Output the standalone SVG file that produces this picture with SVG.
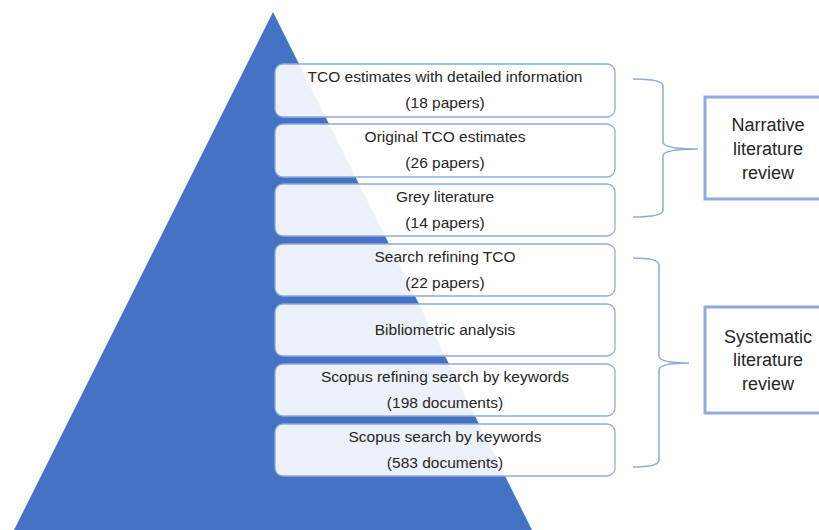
<svg xmlns="http://www.w3.org/2000/svg" width="819" height="530" viewBox="0 0 819 530">
<style>
.box{fill:#ffffff;fill-opacity:0.9;stroke:#8FAADC;stroke-width:1.3}
.t{font-family:"Liberation Sans",Arial,sans-serif;font-size:15.5px;fill:#262626;text-anchor:middle}
.brace{fill:none;stroke:#8FAADC;stroke-width:1.5}
.lab{fill:#ffffff;stroke:#8FAADC;stroke-width:3}
.lt{font-family:"Liberation Sans",Arial,sans-serif;font-size:18px;fill:#262626;text-anchor:middle}
</style>
<rect width="819" height="530" fill="#ffffff"/>
<polygon id="pyramid" points="273,12 14,530 532,530" fill="#4472C4"/>
<g id="n1"><rect class="box" x="275" y="64" width="340" height="53" rx="8"/><text class="t" x="445" y="82">TCO estimates with detailed information</text><text class="t" x="445" y="108">(18 papers)</text></g>
<g id="n2"><rect class="box" x="275" y="124" width="340" height="53" rx="8"/><text class="t" x="445" y="142">Original TCO estimates</text><text class="t" x="445" y="168">(26 papers)</text></g>
<g id="n3"><rect class="box" x="275" y="184" width="340" height="52" rx="8"/><text class="t" x="445" y="202">Grey literature</text><text class="t" x="445" y="228">(14 papers)</text></g>
<g id="n4"><rect class="box" x="275" y="244" width="340" height="52" rx="8"/><text class="t" x="445" y="262">Search refining TCO</text><text class="t" x="445" y="288">(22 papers)</text></g>
<g id="n5"><rect class="box" x="275" y="304" width="340" height="52" rx="8"/><text class="t" x="445" y="335">Bibliometric analysis</text></g>
<g id="n6"><rect class="box" x="275" y="364" width="340" height="52" rx="8"/><text class="t" x="445" y="382">Scopus refining search by keywords</text><text class="t" x="445" y="408">(198 documents)</text></g>
<g id="n7"><rect class="box" x="275" y="424" width="340" height="52" rx="8"/><text class="t" x="445" y="442">Scopus search by keywords</text><text class="t" x="445" y="468">(583 documents)</text></g>
<g id="connectors">
<path class="brace" d="M633,79 Q663,79 663,86 L663,142 Q663,149 698,149 Q663,149 663,156 L663,210 Q663,217 633,217"/>
<path class="brace" d="M633,258 Q659,258 659,265 L659,356 Q659,363 689,363 Q659,363 659,370 L659,460 Q659,467 633,467"/>
</g>
<g id="narrative"><rect class="lab" x="705" y="97" width="130" height="102"/><text class="lt" x="768" y="131">Narrative</text><text class="lt" x="768" y="155">literature</text><text class="lt" x="768" y="179">review</text></g>
<g id="systematic"><rect class="lab" x="705" y="307" width="130" height="106"/><text class="lt" x="768" y="343">Systematic</text><text class="lt" x="768" y="366">literature</text><text class="lt" x="768" y="390">review</text></g>
</svg>
